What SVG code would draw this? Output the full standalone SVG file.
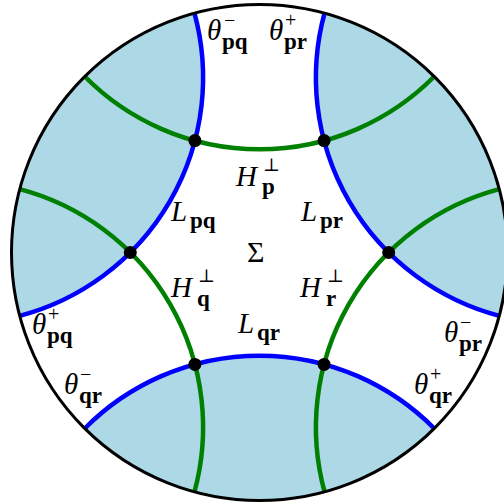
<svg xmlns="http://www.w3.org/2000/svg" width="504" height="504" viewBox="0 0 504 504">
<style>
.reg{fill:#ADD8E6;stroke:none}
.blue{fill:none;stroke:#0000FF;stroke-width:4.5}
.green{fill:none;stroke:#008000;stroke-width:4.5}
.dot{fill:#000}
.bd{fill:none;stroke:#000;stroke-width:3}
text{font-family:"Liberation Serif","DejaVu Serif",serif;fill:#000}
.m{font-size:29px;font-style:italic}
.u{font-size:30px}
.s{font-size:23px;font-weight:bold}
.p{font-size:20px}
.t{font-size:18px}
</style>
<defs>
<path id="geo" d="M84.76,76.52 A246.2,246.2 0 0 0 434.24,76.52"/>
<path id="half" d="M84.76,76.52 A246.2,246.2 0 0 0 434.24,76.52 A248,248 0 0 0 84.76,76.52 Z"/>
</defs>
<g id="regions">
<use href="#half" class="reg" transform="rotate(60 259.5 252.5)"/>
<use href="#half" class="reg" transform="rotate(180 259.5 252.5)"/>
<use href="#half" class="reg" transform="rotate(300 259.5 252.5)"/>
</g>
<g id="connectors">
<use id="L_pr" href="#geo" class="blue" transform="rotate(60 259.5 252.5)"/>
<use id="L_qr" href="#geo" class="blue" transform="rotate(180 259.5 252.5)"/>
<use id="L_pq" href="#geo" class="blue" transform="rotate(300 259.5 252.5)"/>
<use id="H_p" href="#geo" class="green"/>
<use id="H_r" href="#geo" class="green" transform="rotate(120 259.5 252.5)"/>
<use id="H_q" href="#geo" class="green" transform="rotate(240 259.5 252.5)"/>
</g>
<g id="v1"><circle class="dot" cx="194.9" cy="140.6" r="6.5"/></g>
<g id="v2"><circle class="dot" cx="324.1" cy="140.6" r="6.5"/></g>
<g id="v3"><circle class="dot" cx="388.7" cy="252.5" r="6.5"/></g>
<g id="v4"><circle class="dot" cx="324.1" cy="364.4" r="6.5"/></g>
<g id="v5"><circle class="dot" cx="194.9" cy="364.4" r="6.5"/></g>
<g id="v6"><circle class="dot" cx="130.3" cy="252.5" r="6.5"/></g>
<g id="boundary"><circle class="bd" cx="259.5" cy="252.5" r="248"/></g>
<g id="labels">
<text><tspan class="m" x="207" y="40">θ</tspan><tspan class="p" x="224" y="27">−</tspan><tspan class="s" x="222" y="49">pq</tspan></text>
<text><tspan class="m" x="269" y="40">θ</tspan><tspan class="p" x="285" y="27">+</tspan><tspan class="s" x="284" y="49">pr</tspan></text>
<text><tspan class="m" x="236" y="186">H</tspan><tspan class="t" x="263" y="171">⊥</tspan><tspan class="s" x="262" y="194">p</tspan></text>
<text><tspan class="m" x="171" y="221">L</tspan><tspan class="s" x="190" y="228">pq</tspan></text>
<text><tspan class="m" x="301" y="221">L</tspan><tspan class="s" x="320" y="228">pr</tspan></text>
<text class="u" x="247" y="262">Σ</text>
<text><tspan class="m" x="171" y="297">H</tspan><tspan class="t" x="198" y="282">⊥</tspan><tspan class="s" x="197" y="306">q</tspan></text>
<text><tspan class="m" x="300" y="297">H</tspan><tspan class="t" x="327" y="282">⊥</tspan><tspan class="s" x="326" y="306">r</tspan></text>
<text><tspan class="m" x="238" y="333">L</tspan><tspan class="s" x="257" y="340">qr</tspan></text>
<text><tspan class="m" x="32" y="334">θ</tspan><tspan class="p" x="48" y="321">+</tspan><tspan class="s" x="47" y="343">pq</tspan></text>
<text><tspan class="m" x="64" y="394">θ</tspan><tspan class="p" x="80" y="381">−</tspan><tspan class="s" x="79" y="403">qr</tspan></text>
<text><tspan class="m" x="444" y="342">θ</tspan><tspan class="p" x="460" y="329">−</tspan><tspan class="s" x="459" y="351">pr</tspan></text>
<text><tspan class="m" x="414" y="394">θ</tspan><tspan class="p" x="430" y="381">+</tspan><tspan class="s" x="429" y="403">qr</tspan></text>
</g>
</svg>
